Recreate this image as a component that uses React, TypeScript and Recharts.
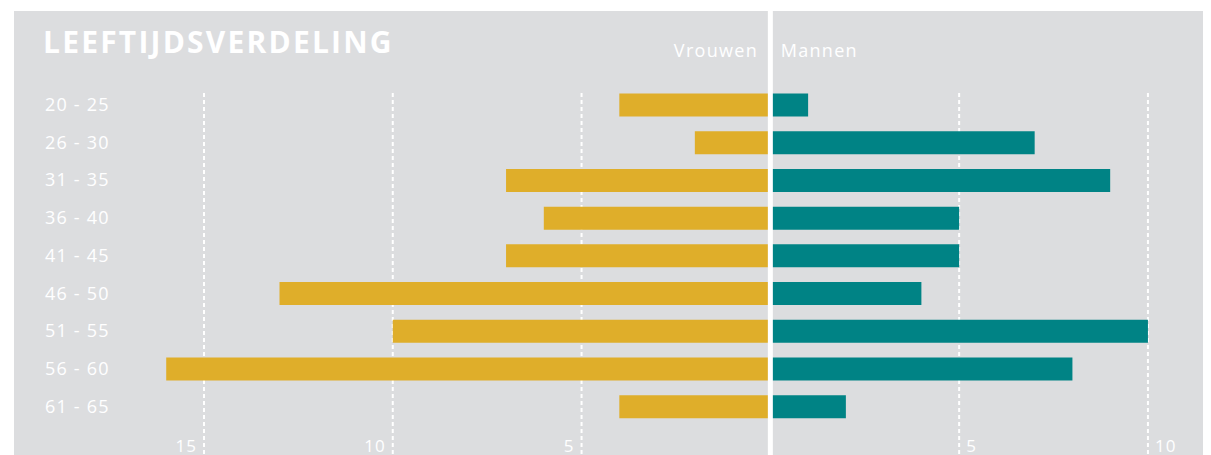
import { BarChart, Bar, XAxis, YAxis, CartesianGrid, ReferenceLine } from 'recharts'

const ageGroups = ['20 - 25', '26 - 30', '31 - 35', '36 - 40', '41 - 45', '46 - 50', '51 - 55', '56 - 60', '61 - 65']
const women = [4, 2, 7, 6, 7, 13, 10, 16, 4]
const men = [1, 7, 9, 5, 5, 4, 10, 8, 2]
const xTicks = [-15, -10, -5, 5, 10]

const data = ageGroups.map((group, i) => ({
  group,
  vrouwen: -women[i],
  mannen: men[i],
}))

const font = '"Open Sans", sans-serif'
const bg = '#dcdddf'

function AgeTick({ y, payload }: any) {
  return (
    <text x={31} y={y + 5.6} textAnchor="start" fill="#fff" fontSize={18} fontFamily={font} letterSpacing={1.2}>
      {payload.value}
    </text>
  )
}

function ValueTick({ x, y, payload }: any) {
  const v = Number(payload.value)
  const left = v < 0
  return (
    <text
      x={left ? x - 7 : x + 7}
      y={y - 19}
      textAnchor={left ? 'end' : 'start'}
      fill="#fff"
      fontSize={17}
      fontFamily={font}
      letterSpacing={1}
    >
      {Math.abs(v)}
    </text>
  )
}

export default function App() {
  return (
    <div style={{ position: 'relative', top: 3, left: 6, width: 1200, height: 460, background: bg }}>
      <BarChart
        width={1200}
        height={460}
        data={data}
        layout="vertical"
        stackOffset="sign"
        barSize={23}
        margin={{ top: 0, right: 28.3, bottom: -20, left: 16.7 }}
        style={{ overflow: 'visible' }}
      >
        <CartesianGrid
          horizontal={false}
          syncWithTicks
          y={82}
          height={378}
          stroke="#fff"
          strokeWidth={2}
          strokeDasharray="4 3"
        />
        <XAxis
          type="number"
          domain={[-18, 11]}
          ticks={xTicks}
          axisLine={false}
          tickLine={false}
          tickSize={0}
          tickMargin={0}
          height={20}
          tick={<ValueTick />}
        />
        <YAxis
          type="category"
          dataKey="group"
          width={60}
          axisLine={false}
          tickLine={false}
          padding={{ top: 75.55, bottom: 45.15 }}
          tick={<AgeTick />}
        />
        <Bar dataKey="vrouwen" stackId="a" fill="#dfae2a" isAnimationActive={false} />
        <Bar dataKey="mannen" stackId="a" fill="#008385" isAnimationActive={false} />
        <ReferenceLine x={0} stroke="#fff" strokeWidth={5} />
      </BarChart>
      <svg width={1200} height={80} style={{ position: 'absolute', left: 0, top: 0, pointerEvents: 'none' }}>
        <text x={29} y={42.3} fill="#fff" fontSize={30} fontWeight={700} fontFamily={font} letterSpacing={2.2}>
          LEEFTIJDSVERDELING
        </text>
        <text x={744} y={46.3} textAnchor="end" fill="#fff" fontSize={18} fontFamily={font} letterSpacing={1.3}>
          Vrouwen
        </text>
        <text x={766.7} y={46.3} fill="#fff" fontSize={18} fontFamily={font} letterSpacing={1.3}>
          Mannen
        </text>
      </svg>
    </div>
  )
}
